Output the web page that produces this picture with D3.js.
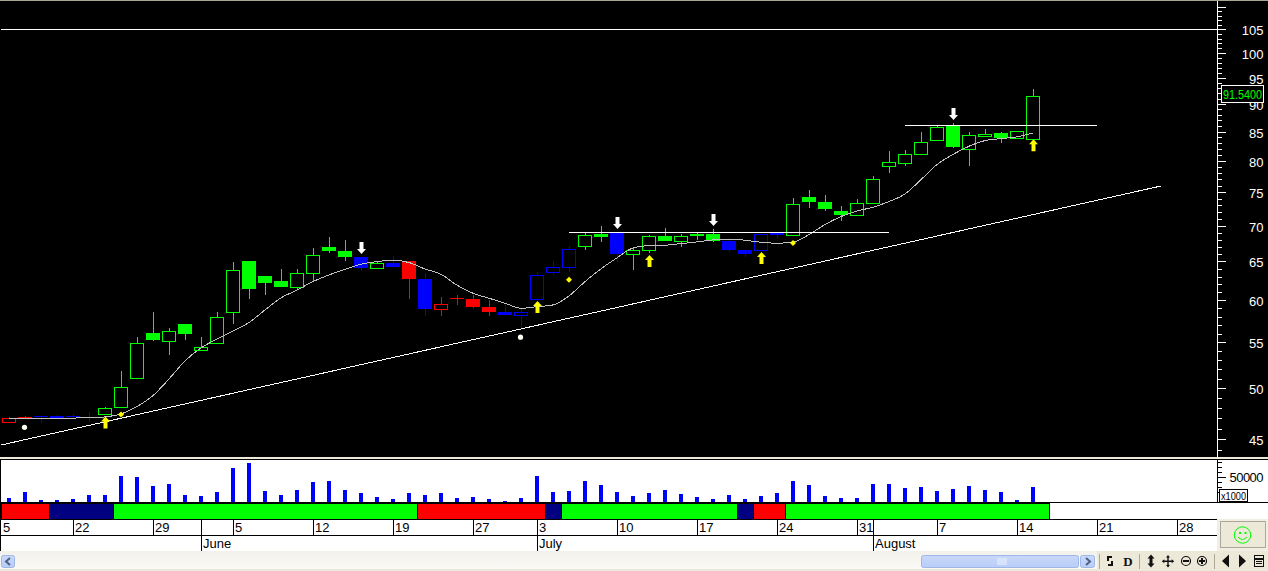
<!DOCTYPE html>
<html>
<head>
<meta charset="utf-8">
<script src="https://cdnjs.cloudflare.com/ajax/libs/d3/7.8.5/d3.min.js"></script>
<style>
html,body{margin:0;padding:0;background:#ece9d8;overflow:hidden}
svg{display:block}
text{font-family:"Liberation Sans",Arial,sans-serif}
</style>
</head>
<body>
<svg id="c" width="1268" height="571"></svg>
<script>
const opens=[46.59,47.14,47.24,47.24,47.24,47.14,47.37,48.05,51.02,56.08,55.08,57.13,54.06,54.85,58.48,65.07,63.08,62.43,61.57,63.43,66.97,66.42,65.61,64.03,64.80,65.07,62.69,58.88,60.28,60.16,59.17,58.56,58.17,60.12,63.52,64.22,67.02,68.80,68.94,65.98,66.46,68.52,67.72,68.80,68.80,67.82,66.56,66.46,68.94,68.56,74.27,73.50,72.14,71.45,73.25,79.06,79.56,81.05,83.43,85.99,81.99,84.12,84.76,83.78,83.78];
const highs=[47.11,47.24,47.24,47.34,47.43,47.63,48.12,51.83,55.62,58.56,56.65,57.13,55.62,58.56,64.94,65.07,63.08,63.99,63.99,66.83,68.38,67.96,65.61,65.07,65.75,65.07,63.47,60.41,60.65,60.65,60.03,59.41,58.92,63.60,65.07,67.11,69.08,69.94,68.94,66.97,68.66,69.65,68.80,69.08,69.50,68.24,66.56,68.76,68.94,74.11,75.33,74.57,72.89,73.96,77.56,81.66,81.83,84.93,85.99,86.53,84.93,85.45,84.93,85.05,92.82];
const lows=[46.59,46.92,46.59,46.92,47.02,46.66,47.37,48.05,51.02,55.16,53.58,55.27,54.06,54.85,57.13,60.16,60.65,61.66,61.40,62.31,66.19,65.07,63.73,64.03,64.26,60.16,58.08,58.08,59.41,59.04,58.08,58.20,56.65,60.12,63.21,63.60,66.56,67.67,64.94,63.86,66.15,67.82,66.97,67.96,67.67,66.29,65.61,66.46,68.10,68.56,72.59,72.14,70.67,71.45,73.25,78.04,79.18,81.05,83.43,82.17,79.18,84.12,83.04,83.78,83.78];
const closes=[47.02,46.92,47.14,47.08,47.14,47.05,47.99,50.12,54.90,55.27,56.27,55.96,54.44,57.93,63.82,61.40,62.18,61.66,63.43,65.84,66.42,65.61,64.13,64.76,64.26,62.69,58.92,59.50,60.16,59.17,58.56,58.20,58.52,63.17,64.22,66.65,68.62,68.38,66.06,66.52,68.48,67.82,68.48,68.52,67.82,66.56,66.06,68.76,68.66,73.15,73.50,72.43,71.56,73.31,77.03,79.79,81.11,83.15,85.76,82.34,84.36,84.53,83.90,85.05,91.54];
const hollow=[0,6,7,8,10,12,13,14,18,19,23,27,32,33,34,35,36,39,40,42,47,49,53,54,55,56,57,58,60,61,63,64];
const candleColors="rrbbbbggggggggggggggggbgbrbrrrrbbbbbggbggggggbbbbgggggggggggggggg".split("");
const movingAvg=[46.99,47.00,47.01,47.02,47.03,47.05,47.14,47.43,48.17,49.26,50.99,52.92,54.36,55.36,56.30,57.29,58.80,60.28,61.27,62.34,63.21,63.95,64.63,64.98,65.17,64.85,63.99,63.30,61.88,60.86,60.24,59.62,59.00,59.20,59.41,60.53,62.34,64.02,65.48,66.83,67.15,67.21,67.44,67.67,67.96,68.05,67.91,67.63,67.49,67.65,68.71,70.15,71.31,72.14,72.70,73.56,74.72,76.97,79.39,81.08,82.46,83.43,83.78,84.07,84.76];
const volumes=[8000,20000,4000,4000,6000,14000,14000,52000,50000,32000,36000,14000,12000,20000,68000,78000,22000,14000,24000,40000,42000,24000,18000,10000,6000,18000,14000,18000,8000,10000,6000,2000,8000,52000,20000,22000,42000,34000,20000,12000,18000,24000,16000,10000,6000,14000,6000,12000,18000,42000,34000,12000,8000,8000,36000,36000,28000,30000,22000,26000,32000,24000,20000,4000,30000];
const bandSegments=[[-0.5,2.5,"#ff0000"],[2.5,6.5,"#000080"],[6.5,25.5,"#00ff00"],[25.5,33.5,"#ff0000"],[33.5,34.5,"#000080"],[34.5,45.5,"#00ff00"],[45.5,46.5,"#000080"],[46.5,48.5,"#ff0000"],[48.5,65,"#00ff00"]];
const dayTicks=[[-0.5,"5"],[4,"22"],[9,"29"],[14,"5"],[19,"12"],[24,"19"],[29,"27"],[33,"3"],[38,"10"],[43,"17"],[48,"24"],[53,"31"],[58,"7"],[63,"14"],[68,"21"],[73,"28"]];
const monthTicks=[[12,"June"],[33,"July"],[54,"August"]];
const priceMajors=[45,50,55,60,65,70,75,80,85,90,95,100,105];
const trendLine=[[-0.5,44.48],[72,75.96]];
const levels=[[-0.5,75.5,105],[35,55,69.04],[56,68,86.12]];
const downArrows=[[22,66.02],[38,69.50],[44,69.94],[59,87.07]];
const upArrows=[[6,47.17],[33,59.91],[40,65.88],[47,66.29],[64,83.67]];
const diamonds=[[7,47.37],[35,62.60],[49,67.53]];
const dots=[[1,46.14],[32,55.58]];
const lastPrice="91.5400";

const W=1268,H=571;
const svg=d3.select("#c");
const x=d3.scaleLinear().domain([0,64]).range([9,1033]);
const y=d3.scaleLog().domain([105,45]).range([29.3,439.4]);
const v=d3.scaleLinear().domain([0,50000]).range([502,477]);
const rect=(p,a,b,w,h,f)=>p.append("rect").attr("x",a).attr("y",b).attr("width",w).attr("height",h).attr("fill",f).attr("shape-rendering","crispEdges");

// panes
rect(svg,0,0,W,H,"#ece9d8");
rect(svg,0,1,W,456,"#000000");
rect(svg,0,0,W,1,"#a8a595");
rect(svg,0,459,W,1,"#000000");
rect(svg,0,460,W,42,"#ffffff");
rect(svg,0,502,W,49,"#ffffff");
rect(svg,0,502,W,1,"#000000");
rect(svg,0,460,1,91,"#000000");

// candles
const pc={r:"#ff0000",g:"#00ff00",b:"#0000ff"};
const gc=svg.append("g");
const candles=d3.range(opens.length).map(i=>({i,o:opens[i],h:highs[i],l:lows[i],c:closes[i],col:pc[candleColors[i]],hollow:hollow.includes(i)}));
gc.selectAll("rect.w").data(candles).join("rect").attr("class","w")
 .attr("x",d=>Math.round(x(d.i))).attr("width",1)
 .attr("y",d=>y(d.h)).attr("height",d=>Math.max(0,y(d.l)-y(d.h)))
 .attr("fill",d=>d.col).attr("shape-rendering","crispEdges");
gc.selectAll("rect.b").data(candles).join("rect").attr("class","b")
 .attr("x",d=>x(d.i)-(d.hollow?6.5:7))
 .attr("width",d=>d.hollow?13:14)
 .attr("y",d=>Math.round(y(Math.max(d.o,d.c)))+(d.hollow?0.5:0))
 .attr("height",d=>Math.max(1,Math.round(Math.abs(y(d.o)-y(d.c)))))
 .attr("fill",d=>d.hollow?"#000000":d.col)
 .attr("stroke",d=>d.hollow?d.col:"none").attr("stroke-width",1)
 .attr("shape-rendering","crispEdges");

// moving average
svg.append("path").datum(movingAvg)
 .attr("d",d3.line().x((d,i)=>x(i)).y(d=>y(d)).curve(d3.curveMonotoneX))
 .attr("fill","none").attr("stroke","#c0c0c0").attr("stroke-width",1).attr("shape-rendering","crispEdges");

// trend and level lines
svg.append("path").datum(trendLine)
 .attr("d",d3.line().x(d=>x(d[0])).y(d=>y(d[1])))
 .attr("fill","none").attr("stroke","#ffffff").attr("stroke-width",1).attr("shape-rendering","crispEdges");
svg.selectAll("line.lv").data(levels).join("line").attr("class","lv")
 .attr("x1",d=>x(d[0])).attr("x2",d=>x(d[1])).attr("y1",d=>Math.round(y(d[2]))+0.5).attr("y2",d=>Math.round(y(d[2]))+0.5)
 .attr("stroke","#ffffff").attr("stroke-width",1).attr("shape-rendering","crispEdges");

// signals
const arrow="M-2,0H2V7H4.5L0,12L-4.5,7H-2Z";
svg.selectAll("path.dn").data(downArrows).join("path").attr("class","dn")
 .attr("d",arrow).attr("fill","#ffffff")
 .attr("transform",d=>`translate(${x(d[0])+0.5},${y(d[1])-12})`);
svg.selectAll("path.up").data(upArrows).join("path").attr("class","up")
 .attr("d",arrow).attr("fill","#ffff00")
 .attr("transform",d=>`translate(${x(d[0])+0.5},${y(d[1])+12}) scale(1,-1)`);
svg.selectAll("path.dm").data(diamonds).join("path").attr("class","dm")
 .attr("d","M0,-3L3,0L0,3L-3,0Z").attr("fill","#ffff00")
 .attr("transform",d=>`translate(${x(d[0])},${y(d[1])})`);
svg.selectAll("circle.dt").data(dots).join("circle").attr("class","dt")
 .attr("cx",d=>x(d[0])-0.5).attr("cy",d=>y(d[1])).attr("r",2.6).attr("fill","#fffff0");

// price axis
const axisX=1217.5;
const minors=d3.range(44,111).filter(t=>t%5!==0);
const gMinor=svg.append("g").attr("transform",`translate(${axisX},0)`)
 .call(d3.axisRight(y).tickValues(minors).tickSize(4).tickFormat(""));
gMinor.selectAll("line").attr("stroke","#ffffff").attr("shape-rendering","crispEdges");
gMinor.select(".domain").remove();
const gMajor=svg.append("g").attr("transform",`translate(${axisX},0)`)
 .call(d3.axisRight(y).tickValues(priceMajors.concat([110])).tickSize(8).tickFormat(d=>d===110?"":d));
gMajor.selectAll("line").attr("stroke","#ffffff").attr("shape-rendering","crispEdges");
gMajor.select(".domain").remove();
gMajor.selectAll("text").attr("x",46).attr("dy","0.42em").attr("text-anchor","end")
 .attr("fill","#ffffff").attr("font-size",13).attr("font-family",'"Liberation Sans",Arial,sans-serif');
rect(svg,1217,1,1,456,"#ffffff");

// last price box
svg.append("rect").attr("x",1221.5).attr("y",85.5).attr("width",42).attr("height",17).attr("fill","#000000").attr("stroke","#ffffff").attr("shape-rendering","crispEdges");
svg.append("text").attr("x",1242.5).attr("y",98.5).attr("text-anchor","middle").attr("fill","#00ff00").attr("font-size",12.5)
 .attr("textLength",39).attr("lengthAdjust","spacingAndGlyphs").text(lastPrice);

// volume
svg.selectAll("rect.vol").data(volumes).join("rect").attr("class","vol")
 .attr("x",(d,i)=>x(i)-2).attr("width",4).attr("y",d=>v(d)).attr("height",d=>v(0)-v(d))
 .attr("fill","#0000ff").attr("shape-rendering","crispEdges");
rect(svg,1217,460,1,42,"#000000");
const gv=svg.append("g").attr("transform","translate(1217.5,0)")
 .call(d3.axisRight(v).tickValues([20000,30000,40000,60000,70000,80000]).tickSize(4).tickFormat(""));
gv.selectAll("line").attr("stroke","#000000").attr("shape-rendering","crispEdges");
gv.select(".domain").remove();
const gv2=svg.append("g").attr("transform","translate(1217.5,0)")
 .call(d3.axisRight(v).tickValues([50000]).tickSize(8).tickFormat(d3.format("d")));
gv2.selectAll("line").attr("stroke","#000000").attr("shape-rendering","crispEdges");
gv2.select(".domain").remove();
gv2.selectAll("text").attr("x",46).attr("dy","0.38em").attr("text-anchor","end").attr("fill","#000000")
 .attr("font-size",13).attr("font-family",'"Liberation Sans",Arial,sans-serif').attr("textLength",34);
svg.append("rect").attr("x",1219.5).attr("y",489.5).attr("width",28).attr("height",12).attr("fill","#ffffff").attr("stroke","#000000").attr("shape-rendering","crispEdges");
svg.append("text").attr("x",1233.5).attr("y",499.5).attr("text-anchor","middle").attr("font-size",10.5).attr("fill","#000000")
 .attr("textLength",25).attr("lengthAdjust","spacingAndGlyphs").text("x1000");

// state band
svg.selectAll("rect.bd").data(bandSegments).join("rect").attr("class","bd")
 .attr("x",d=>x(d[0])).attr("width",d=>x(d[1])-x(d[0])).attr("y",503).attr("height",16)
 .attr("fill",d=>d[2]).attr("stroke","#000000").attr("stroke-width",1).attr("shape-rendering","crispEdges");

// date rows
rect(svg,0,519,1217,1,"#000000");
rect(svg,0,535,1217,1,"#000000");
svg.selectAll("line.dy").data(dayTicks.filter(d=>d[0]>=0)).join("line").attr("class","dy")
 .attr("x1",d=>x(d[0])+0.5).attr("x2",d=>x(d[0])+0.5).attr("y1",519).attr("y2",535)
 .attr("stroke","#000000").attr("shape-rendering","crispEdges");
svg.selectAll("text.dy").data(dayTicks).join("text").attr("class","dy")
 .attr("x",d=>x(d[0])+2).attr("y",532).attr("font-size",13).attr("fill","#000000").text(d=>d[1]);
svg.selectAll("line.mo").data(monthTicks).join("line").attr("class","mo")
 .attr("x1",d=>x(d[0])+0.5).attr("x2",d=>x(d[0])+0.5).attr("y1",519).attr("y2",551)
 .attr("stroke","#000000").attr("shape-rendering","crispEdges");
svg.selectAll("text.mo").data(monthTicks).join("text").attr("class","mo")
 .attr("x",d=>x(d[0])+2).attr("y",548).attr("font-size",13).attr("fill","#000000").text(d=>d[1]);

// lower right panel
rect(svg,1217,519,51,32,"#f1efe3");
svg.append("rect").attr("x",1220.5).attr("y",521.5).attr("width",45).attr("height",26).attr("fill","#ece9d8").attr("stroke","#aca899").attr("shape-rendering","crispEdges");
const sm=svg.append("g").attr("transform","translate(1242.5,535)").attr("fill","none").attr("stroke","#00ff00");
sm.append("circle").attr("r",8.2);
sm.append("path").attr("d","M-4.5,2Q0,7 4.5,2");
sm.append("rect").attr("x",-3.5).attr("y",-3).attr("width",2).attr("height",2).attr("fill","#00ff00").attr("stroke","none");
sm.append("rect").attr("x",2).attr("y",-3).attr("width",2).attr("height",2).attr("fill","#00ff00").attr("stroke","none");

// scrollbar + toolbar
const defs=svg.append("defs");
const g1=defs.append("linearGradient").attr("id","trk").attr("x1",0).attr("y1",0).attr("x2",0).attr("y2",1);
g1.append("stop").attr("offset",0).attr("stop-color","#f3f1ea");
g1.append("stop").attr("offset",1).attr("stop-color","#fbfbf8");
const g2=defs.append("linearGradient").attr("id","thm").attr("x1",0).attr("y1",0).attr("x2",0).attr("y2",1);
g2.append("stop").attr("offset",0).attr("stop-color","#c9d8fb");
g2.append("stop").attr("offset",1).attr("stop-color","#b9cdf8");
rect(svg,0,551,1097,20,"url(#trk)");
rect(svg,0,569,1097,2,"#ece9d8");
const btn=(bx,w)=>svg.append("rect").attr("x",bx).attr("y",555.5).attr("width",w).attr("height",12).attr("rx",2).attr("fill","url(#thm)").attr("stroke","#9fb6e8");
btn(1.5,13); btn(921.5,157); btn(1080.5,14);
svg.append("path").attr("d","M10,558L6,561.5L10,565").attr("fill","none").attr("stroke","#4d6185").attr("stroke-width",2);
svg.append("path").attr("d","M1086,558L1090,561.5L1086,565").attr("fill","none").attr("stroke","#4d6185").attr("stroke-width",2);
svg.append("path").attr("d","M998,558v7M1000,558v7M1002,558v7M1004,558v7M1006,558v7").attr("stroke","#eef3ff").attr("stroke-width",1);
[1099,1139,1214].forEach(s=>rect(svg,s,554,1,15,"#aca899"));
const ic=svg.append("g").attr("fill","#111111").attr("stroke","none");
ic.append("path").attr("d","M1107,556h5v2h-3v3h-2zM1113,566h-5v-2h3v-3h2z");
ic.append("text").attr("x",1128).attr("y",566).attr("text-anchor","middle").attr("font-size",13).attr("font-weight","bold").attr("style",'font-family:"Liberation Serif",serif').text("D");
ic.append("path").attr("d","M1151,554.5l3.5,4h-2v5h2l-3.5,4l-3.5,-4h2v-5h-2z");
ic.append("path").attr("d","M1168,555l2,2.5h-1.3v3h3v-1.3l2.5,2l-2.5,2v-1.3h-3v3h1.3l-2,2.5l-2,-2.5h1.3v-3h-3v1.3l-2.5,-2l2.5,-2v1.3h3v-3h-1.3z");
svg.append("circle").attr("cx",1186).attr("cy",561).attr("r",4.5).attr("fill","none").attr("stroke","#111").attr("stroke-width",1.2);
rect(svg,1183,560,6,2,"#111111");
svg.append("circle").attr("cx",1202).attr("cy",561).attr("r",4.5).attr("fill","none").attr("stroke","#111").attr("stroke-width",1.2);
rect(svg,1199,560,6,2,"#111111"); rect(svg,1201,558,2,6,"#111111");
ic.append("path").attr("d","M1229,554.5v13l-7,-6.5z");
ic.append("path").attr("d","M1239,554.5v13l7,-6.5z");
svg.append("rect").attr("x",1254.5).attr("y",555.5).attr("width",9).attr("height",11).attr("fill","none").attr("stroke","#111");
rect(svg,1254,558,10,2,"#111111"); rect(svg,1256,561,6,1,"#111111"); rect(svg,1256,563,6,1,"#111111");
</script>
</body>
</html>
